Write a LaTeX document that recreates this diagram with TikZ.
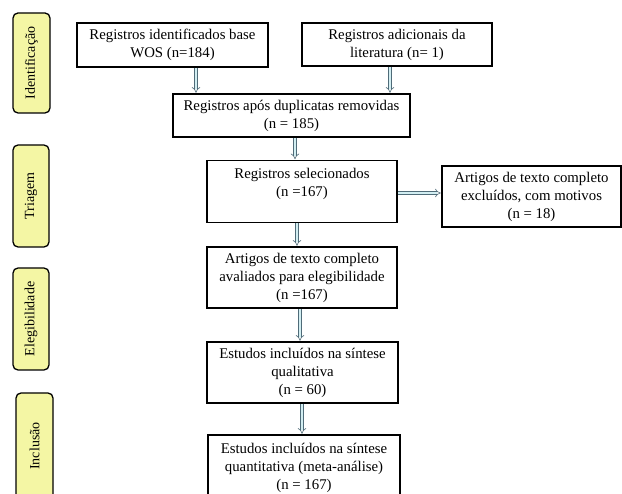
\documentclass[tikz,border=0pt]{standalone}
\usepackage{fontspec}
\setmainfont{Liberation Serif}
\usetikzlibrary{arrows.meta,calc}

\definecolor{stagefill}{HTML}{F4F6A4}
\definecolor{arrowfill}{HTML}{D2EEF2}
\definecolor{arrowline}{HTML}{4F6B78}

\tikzset{
  flowbox/.style={draw=black, line width=1.6pt, fill=white, align=center,
    font=\fontsize{14.8}{18}\selectfont, inner sep=1pt},
  stage/.style={draw=black, line width=1.3pt, fill=stagefill, rounded corners=5pt,
    rotate=90, align=center, font=\fontsize{14}{16}\selectfont, inner sep=1pt},
  flowarrow/.style={draw=arrowline, line width=0.6pt, double=arrowfill,
    double distance=2.4pt, -{Implies[length=3pt]}, shorten >=0.5pt}
}

\begin{document}
\begin{tikzpicture}[x=1pt,y=-1pt]
  \useasboundingbox (0,0) rectangle (622,494);
  \clip (0,0) rectangle (622,494);

  % stage labels down the left side
  \node[stage, minimum width=100pt, minimum height=37pt] (sid) at (31.5,63) {Identificação};
  \node[stage, minimum width=102pt, minimum height=36pt] (str) at (31,196) {Triagem};
  \node[stage, minimum width=102pt, minimum height=36pt] (sel) at (31,319) {Elegibilidade};
  \node[stage, minimum width=106pt, minimum height=37pt] (sin) at (34.5,446) {Inclusão};

  % flow boxes
  \node[flowbox, minimum width=191pt, minimum height=44pt] (b1) at (172.5,45)
    {Registros identificados base\\WOS (n=184)};
  \node[flowbox, minimum width=190pt, minimum height=43pt] (b2) at (397,44.5)
    {Registros adicionais da\\literatura (n= 1)};
  \node[flowbox, minimum width=237pt, minimum height=43pt] (b3) at (291.5,115.5)
    {Registros após duplicatas removidas\\(n = 185)};
  \node[flowbox, minimum width=190pt, minimum height=62pt] (b4) at (302,191.5)
    {Registros selecionados\\(n =167)\\\mbox{}};
  \node[flowbox, minimum width=179pt, minimum height=61pt] (b5) at (531.5,196.5)
    {Artigos de texto completo\\excluídos, com motivos\\(n = 18)};
  \node[flowbox, minimum width=190pt, minimum height=61pt] (b6) at (302,277.5)
    {Artigos de texto completo\\avaliados para elegibilidade\\(n =167)};
  \node[flowbox, minimum width=191pt, minimum height=61pt] (b7) at (302.5,372.5)
    {Estudos incluídos na síntese\\qualitativa\\(n = 60)};
  \node[flowbox, minimum width=192pt, minimum height=65pt] (b8) at (304,467.5)
    {Estudos incluídos na síntese\\quantitativa (meta-análise)\\(n = 167)};

  % columns and rows the arrows run along
  \coordinate (x1) at (196,0);
  \coordinate (x2) at (390,0);
  \coordinate (x3) at (295,0);
  \coordinate (x4) at (297,0);
  \coordinate (x6) at (300,0);
  \coordinate (x7) at (302,0);
  \coordinate (y5) at (0,193);

  % arrows
  \draw[flowarrow] (x1 |- b1.south) -- (x1 |- b3.north);
  \draw[flowarrow] (x2 |- b2.south) -- (x2 |- b3.north);
  \draw[flowarrow] (x3 |- b3.south) -- (x3 |- b4.north);
  \draw[flowarrow] (x4 |- b4.south) -- (x4 |- b6.north);
  \draw[flowarrow] (b4.east |- y5) -- (b5.west |- y5);
  \draw[flowarrow] (x6 |- b6.south) -- (x6 |- b7.north);
  \draw[flowarrow] (x7 |- b7.south) -- (x7 |- b8.north);
\end{tikzpicture}
\end{document}
